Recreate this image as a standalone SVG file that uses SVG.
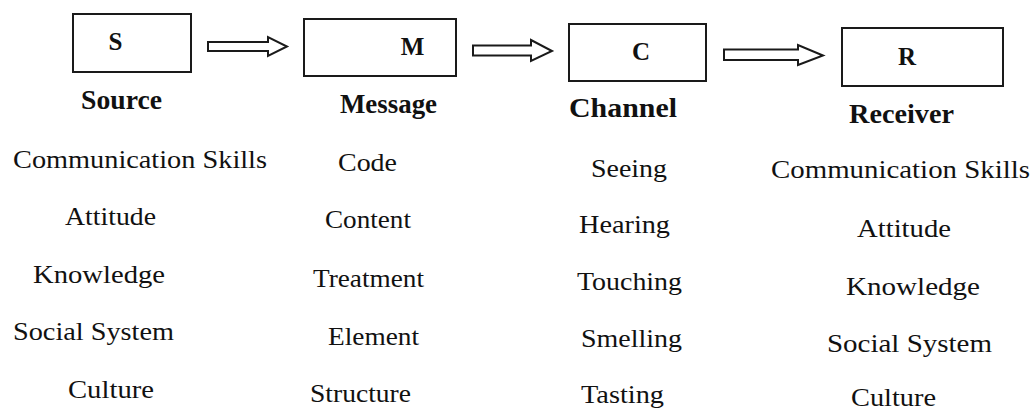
<svg xmlns="http://www.w3.org/2000/svg" width="1034" height="412" viewBox="0 0 1034 412">
  <style>
    .box { fill: none; stroke: #1a1a1a; stroke-width: 2; }
    .arrow { fill: #ffffff; stroke: #1a1a1a; stroke-width: 2; stroke-linejoin: miter; }
    text { font-family: 'Liberation Serif', 'DejaVu Serif', serif; fill: #111; }
    .letter { font-weight: bold; font-size: 25px; text-anchor: middle; }
    .title { font-weight: bold; font-size: 28px; }
    .item { font-size: 26px; }
  </style>
  <rect width="1034" height="412" fill="#ffffff"/>

  <!-- Source -->
  <g id="node-source">
    <rect class="box" x="73" y="14" width="118" height="58"/>
    <text class="letter" x="115.5" y="50">S</text>
    <text class="title" x="81" y="109" textLength="81" lengthAdjust="spacingAndGlyphs">Source</text>
    <text class="item" x="13" y="168" textLength="254" lengthAdjust="spacingAndGlyphs">Communication Skills</text>
    <text class="item" x="65" y="225" textLength="91" lengthAdjust="spacingAndGlyphs">Attitude</text>
    <text class="item" x="33" y="283" textLength="132" lengthAdjust="spacingAndGlyphs">Knowledge</text>
    <text class="item" x="13" y="340" textLength="161" lengthAdjust="spacingAndGlyphs">Social System</text>
    <text class="item" x="68" y="398" textLength="86" lengthAdjust="spacingAndGlyphs">Culture</text>
  </g>

  <!-- Message -->
  <g id="node-message">
    <rect class="box" x="304" y="19" width="152" height="57"/>
    <text class="letter" x="412.5" y="55">M</text>
    <text class="title" x="340" y="113" textLength="97" lengthAdjust="spacingAndGlyphs">Message</text>
    <text class="item" x="338" y="171" textLength="59" lengthAdjust="spacingAndGlyphs">Code</text>
    <text class="item" x="325" y="228" textLength="86" lengthAdjust="spacingAndGlyphs">Content</text>
    <text class="item" x="313" y="287" textLength="111" lengthAdjust="spacingAndGlyphs">Treatment</text>
    <text class="item" x="328" y="345" textLength="91" lengthAdjust="spacingAndGlyphs">Element</text>
    <text class="item" x="310" y="402" textLength="101" lengthAdjust="spacingAndGlyphs">Structure</text>
  </g>

  <!-- Channel -->
  <g id="node-channel">
    <rect class="box" x="569" y="24" width="137" height="57"/>
    <text class="letter" x="641" y="60">C</text>
    <text class="title" x="569" y="117" textLength="108" lengthAdjust="spacingAndGlyphs">Channel</text>
    <text class="item" x="591" y="177" textLength="76" lengthAdjust="spacingAndGlyphs">Seeing</text>
    <text class="item" x="579" y="233" textLength="91" lengthAdjust="spacingAndGlyphs">Hearing</text>
    <text class="item" x="577" y="290" textLength="105" lengthAdjust="spacingAndGlyphs">Touching</text>
    <text class="item" x="581" y="347" textLength="101" lengthAdjust="spacingAndGlyphs">Smelling</text>
    <text class="item" x="581" y="403" textLength="83" lengthAdjust="spacingAndGlyphs">Tasting</text>
  </g>

  <!-- Receiver -->
  <g id="node-receiver">
    <rect class="box" x="842" y="28" width="161" height="58"/>
    <text class="letter" x="907" y="65">R</text>
    <text class="title" x="849" y="123" textLength="105" lengthAdjust="spacingAndGlyphs">Receiver</text>
    <text class="item" x="771" y="178" textLength="259" lengthAdjust="spacingAndGlyphs">Communication Skills</text>
    <text class="item" x="857" y="237" textLength="94" lengthAdjust="spacingAndGlyphs">Attitude</text>
    <text class="item" x="846" y="295" textLength="134" lengthAdjust="spacingAndGlyphs">Knowledge</text>
    <text class="item" x="827" y="352" textLength="165" lengthAdjust="spacingAndGlyphs">Social System</text>
    <text class="item" x="851" y="406" textLength="85" lengthAdjust="spacingAndGlyphs">Culture</text>
  </g>

  <!-- Block arrows between the stages -->
  <g id="connectors">
    <polygon class="arrow" points="208,42 268,42 268,37 287,46.5 268,56 268,51 208,51"/>
    <polygon class="arrow" points="473,45.5 531,45.5 531,40 552,51 531,61 531,55.5 473,55.5"/>
    <polygon class="arrow" points="724,49.5 798,49.5 798,45 823,55.5 798,65 798,60 724,60"/>
  </g>
</svg>
